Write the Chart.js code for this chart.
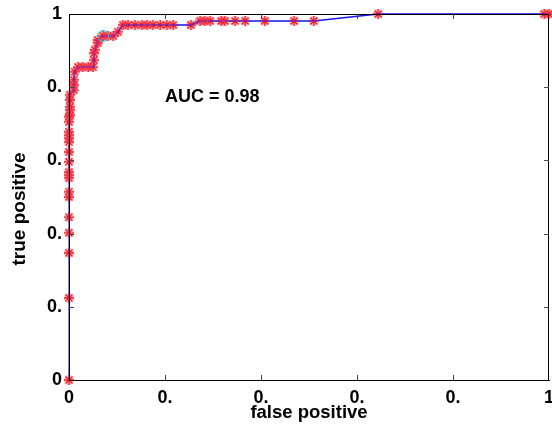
<!DOCTYPE html>
<html>
<head>
<meta charset="utf-8">
<script src="https://cdn.jsdelivr.net/npm/chart.js@4/dist/chart.umd.min.js"></script>
<style>
  html, body { margin: 0; padding: 0; background: #fff; }
  #wrap { width: 552px; height: 424px; }
</style>
</head>
<body>
<div id="wrap"><canvas id="roc" width="552" height="424"></canvas></div>
<script>
// ROC curve points
const fpr = [0, 0, 0, 0, 0, 0, 0, 0, 0, 0, 0, 0, 0, 0, 0, 0, 0, 0,
  0.002, 0.002, 0.002, 0.002, 0.002,
  0.01, 0.01, 0.01, 0.012,
  0.019, 0.029, 0.04, 0.05, 0.052, 0.052, 0.054, 0.06, 0.06,
  0.071, 0.081, 0.092, 0.102, 0.1125,
  0.123, 0.1375, 0.152, 0.1625, 0.175, 0.19, 0.204, 0.217, 0.254,
  0.273, 0.283, 0.294, 0.317, 0.325, 0.346, 0.367, 0.408, 0.469, 0.51,
  0.644, 0.99, 1];
const tpr = [0, 0.224, 0.347, 0.402, 0.445, 0.5, 0.514, 0.552, 0.56, 0.568, 0.596, 0.623, 0.65, 0.661, 0.669, 0.678, 0.705, 0.719,
  0.724, 0.738, 0.746, 0.765, 0.779,
  0.792, 0.806, 0.82, 0.842,
  0.855, 0.855, 0.855, 0.855, 0.874, 0.893, 0.902, 0.921, 0.929,
  0.94, 0.94, 0.94, 0.951, 0.97,
  0.97, 0.97, 0.97, 0.97, 0.97, 0.97, 0.97, 0.97, 0.97,
  0.981, 0.981, 0.981, 0.981, 0.981, 0.981, 0.981, 0.981, 0.981, 0.981,
  1, 1, 1];
const opPoint = [{x: 0.071, y: 0.94}];   // circled operating point
const xTickLabels = ["0", "0.", "0.", "0.", "0.", "1"];
const yTickLabels = ["0", "0.", "0.", "0.", "0.", "1"];
const aucText = "AUC = 0.98";
const aucPos = {x: 0.2, y: 0.773};
const yTitle = "true positive";

const pts = fpr.map((x, i) => ({x: x, y: tpr[i]}));
const FONT = "'Liberation Sans', Arial, Helvetica, sans-serif";

// MATLAB style box with inward tick marks, AUC label and y title
const boxPlugin = {
  id: 'box',
  afterDraw(chart) {
    const {ctx, chartArea: a, scales: {x, y}} = chart;
    ctx.save();
    ctx.strokeStyle = '#000';
    ctx.lineWidth = 1;
    ctx.strokeRect(a.left + 0.5, a.top + 0.5, a.right - a.left - 1, a.bottom - a.top);
    ctx.strokeStyle = '#444';
    x.ticks.forEach(t => {
      if (t.value <= 0 || t.value >= 1) return;
      const px = Math.round(x.getPixelForValue(t.value)) + 0.5;
      ctx.beginPath();
      ctx.moveTo(px, a.bottom); ctx.lineTo(px, a.bottom - 5);
      ctx.moveTo(px, a.top); ctx.lineTo(px, a.top + 5);
      ctx.stroke();
    });
    y.ticks.forEach(t => {
      if (t.value <= 0 || t.value >= 1) return;
      const py = Math.round(y.getPixelForValue(t.value)) + 0.5;
      ctx.beginPath();
      ctx.moveTo(a.left, py); ctx.lineTo(a.left + 5, py);
      ctx.moveTo(a.right, py); ctx.lineTo(a.right - 5, py);
      ctx.stroke();
    });
    ctx.fillStyle = '#000';
    ctx.font = 'bold 18px ' + FONT;
    ctx.textAlign = 'left';
    ctx.textBaseline = 'middle';
    ctx.fillText(aucText, x.getPixelForValue(aucPos.x), y.getPixelForValue(aucPos.y));
    // y axis title
    ctx.translate(20, (a.top + a.bottom) / 2 + 12);
    ctx.rotate(-Math.PI / 2);
    ctx.textAlign = 'center';
    ctx.font = 'bold 19px ' + FONT;
    ctx.fillText(yTitle, 0, 0);
    ctx.restore();
  }
};

new Chart(document.getElementById('roc'), {
  type: 'scatter',
  data: {
    datasets: [
      {
        data: opPoint,
        showLine: false,
        pointStyle: 'circle',
        pointRadius: 5.5,
        pointBorderWidth: 1,
        pointBorderColor: 'rgb(0,205,225)',
        pointBackgroundColor: 'rgba(0,0,0,0)'
      },
      {
        data: pts,
        showLine: true,
        borderColor: 'rgb(20,20,235)',
        borderWidth: 1.5,
        pointStyle: 'star',
        pointRadius: 5,
        pointBorderWidth: 3.5,
        pointBorderColor: 'rgba(255,70,90,0.35)',
        pointBackgroundColor: 'rgba(0,0,0,0)'
      },
      {
        data: pts,
        showLine: false,
        pointStyle: 'star',
        pointRadius: 5,
        pointBorderWidth: 1.3,
        pointBorderColor: 'rgb(255,0,0)',
        pointBackgroundColor: 'rgba(0,0,0,0)'
      }
    ]
  },
  options: {
    responsive: false,
    animation: false,
    clip: false,
    layout: {autoPadding: false, padding: {top: 14, right: 3, left: 0, bottom: 0}},
    plugins: {legend: {display: false}, tooltip: {enabled: false}},
    scales: {
      x: {
        type: 'linear', min: 0, max: 1,
        afterFit: s => { s.height = 44; s.paddingLeft = 0; s.paddingRight = 0; },
        afterBuildTicks: s => { s.ticks = [0, 0.2, 0.4, 0.6, 0.8, 1].map(v => ({value: v})); },
        grid: {display: false, drawTicks: false},
        border: {display: true, color: '#000', width: 1},
        ticks: {
          padding: 7, color: '#000', maxRotation: 0,
          font: {family: FONT, size: 18, weight: 'bold'},
          callback: (v, i) => xTickLabels[i]
        },
        title: {
          display: true, text: 'false positive', color: '#000', padding: {top: 0, bottom: 0},
          font: {family: FONT, size: 18.5, weight: 'bold'}
        }
      },
      y: {
        type: 'linear', min: 0, max: 1,
        afterFit: s => { s.width = 69; s.paddingTop = 0; s.paddingBottom = 0; },
        afterBuildTicks: s => { s.ticks = [0, 0.2, 0.4, 0.6, 0.8, 1].map(v => ({value: v})); },
        grid: {display: false, drawTicks: false},
        border: {display: true, color: '#000', width: 1},
        ticks: {
          padding: 7, color: '#000',
          font: {family: FONT, size: 18, weight: 'bold'},
          callback: (v, i) => yTickLabels[i]
        }
      }
    }
  },
  plugins: [boxPlugin]
});
</script>
</body>
</html>
